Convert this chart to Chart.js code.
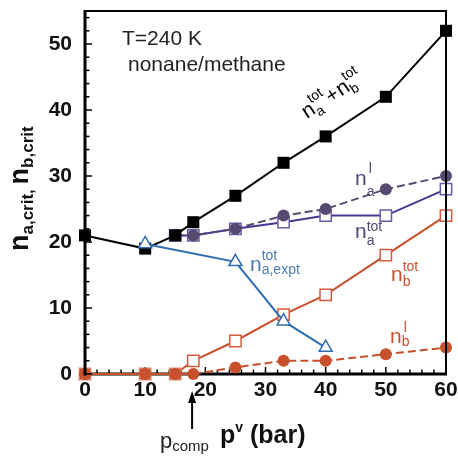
<!DOCTYPE html>
<html><head><meta charset="utf-8">
<script src="https://cdn.jsdelivr.net/npm/chart.js@4.4.1/dist/chart.umd.min.js"></script>
<style>html,body{margin:0;padding:0;background:#fff}#wrap{width:458px;height:457px}</style>
</head><body><div id="wrap"><canvas id="c" width="458" height="457"></canvas></div>
<script>
// ---- data ----
const pTotal   = [0, 10, 15, 18, 25, 33, 40, 50, 60];
const nTotal   = [21, 19, 21, 23, 27, 32, 36, 42, 52];
const pA       = [15, 18, 25, 33, 40, 50, 60];
const naLiquid = [21, 21, 22, 24, 25, 28, 30];
const naTotal  = [21, 21, 22, 23, 24, 24, 28];
const pB       = [0, 10, 15, 18, 25, 33, 40, 50, 60];
const nbTotal  = [0, 0, 0, 2, 5, 9, 12, 18, 24];
const nbLiquid = [0, 0, 0, 0, 1, 2, 2, 3, 4];
const pExpt    = [10, 25, 33, 40];
const naExpt   = [19.7, 17, 8, 4];
const xTicks   = [0, 10, 20, 30, 40, 50, 60];
const yTicks   = [0, 10, 20, 30, 40, 50];

const FONT = "'Liberation Sans', Arial, Helvetica, sans-serif";
const C = {
  black: '#000000',
  purpleDark: '#564a70',
  purpleLine: '#4a3590',
  purpleSq: '#6b5aa6',
  orange: '#c9502c',
  orangeSq: '#d45a3c',
  blue: '#2f6db3',
  purpleText: '#54467a',
  blueText: '#4d7bb5'
};
const pts = (xs, ys) => xs.map((x, i) => ({x, y: ys[i]}));

const framePlugin = {
  id: 'frame',
  beforeDatasetsDraw(chart) {
    const {ctx, chartArea: a, scales: {x, y}} = chart;
    ctx.save();
    ctx.strokeStyle = '#000';
    ctx.lineWidth = 3;
    ctx.beginPath();
    ctx.moveTo(a.left - 1.5, a.bottom); ctx.lineTo(a.right + 1, a.bottom);
    ctx.stroke();
    ctx.lineWidth = 1.5;
    for (let v = x.min; v <= x.max; v += 2) {
      const px = x.getPixelForValue(v);
      const len = v % 10 === 0 ? 7 : 4.5;
      ctx.beginPath(); ctx.moveTo(px, a.bottom); ctx.lineTo(px, a.bottom - len); ctx.stroke();
    }
    ctx.restore();
  },
  afterDatasetsDraw(chart) {
    const {ctx, chartArea: a, scales: {x, y}} = chart;
    ctx.save();
    ctx.strokeStyle = '#000';
    ctx.lineWidth = 2;
    ctx.beginPath();
    ctx.moveTo(a.left, a.top); ctx.lineTo(a.right, a.top); ctx.lineTo(a.right, a.bottom);
    ctx.stroke();
    ctx.lineWidth = 3;
    ctx.beginPath(); ctx.moveTo(a.left, a.top - 1); ctx.lineTo(a.left, a.bottom + 1.5); ctx.stroke();
    ctx.lineWidth = 1.5;
    for (let v = y.min; v <= y.max; v += 2) {
      const py = y.getPixelForValue(v);
      const len = v % 10 === 0 ? 7 : 4.5;
      ctx.beginPath(); ctx.moveTo(a.left, py); ctx.lineTo(a.left + len, py); ctx.stroke();
    }
    ctx.restore();
  }
};

function rich(ctx, x, y, items, color, angle) {
  ctx.save();
  ctx.translate(x, y);
  if (angle) ctx.rotate(angle);
  ctx.fillStyle = color;
  ctx.textAlign = 'left';
  ctx.textBaseline = 'alphabetic';
  let cx = 0;
  for (const it of items) {
    const w = it.weight || 'normal';
    if (it.t !== undefined) {
      ctx.font = `${w} ${it.size}px ${FONT}`;
      ctx.fillText(it.t, cx + (it.dx || 0), 0);
      cx += ctx.measureText(it.t).width + 2 * (it.dx || 0);
    } else {
      ctx.font = `${w} ${it.size}px ${FONT}`;
      let mw = 0;
      if (it.sup) { ctx.fillText(it.sup, cx + (it.supDx || 0), it.supDy); mw = Math.max(mw, ctx.measureText(it.sup).width + (it.supDx || 0)); }
      if (it.sub) { ctx.fillText(it.sub, cx, it.subDy); mw = Math.max(mw, ctx.measureText(it.sub).width); }
      cx += mw;
    }
  }
  ctx.restore();
}

const labelPlugin = {
  id: 'labels',
  afterDraw(chart) {
    const ctx = chart.ctx;
    ctx.save();
    ctx.fillStyle = '#222';
    ctx.font = `normal 21px ${FONT}`;
    ctx.textBaseline = 'alphabetic';
    ctx.fillText('T=240 K', 122, 45);
    ctx.fillText('nonane/methane', 128, 71);
    ctx.restore();

    // total label along black line
    rich(ctx, 307, 119, [
      {t: 'n', size: 21},
      {sup: 'tot', sub: 'a', size: 14, supDy: -11, subDy: 5},
      {t: '+', size: 20, dx: 1},
      {t: 'n', size: 21},
      {sup: 'tot', sub: 'b', size: 14, supDy: -11, subDy: 5}
    ], C.black, -0.58);

    rich(ctx, 355, 185, [{t: 'n', size: 21}, {sup: 'l', sub: 'a', size: 14, supDy: -12, subDy: 11, supDx: 2}], C.purpleText);
    rich(ctx, 355, 238, [{t: 'n', size: 21}, {sup: 'tot', sub: 'a', size: 14, supDy: -7, subDy: 7}], C.purpleText);
    rich(ctx, 250, 271, [{t: 'n', size: 21}, {sup: 'tot', sub: 'a,expt', size: 14, supDy: -11, subDy: 3}], C.blueText);
    rich(ctx, 391, 281, [{t: 'n', size: 21}, {sup: 'tot', sub: 'b', size: 14, supDy: -10, subDy: 5}], C.orange);
    rich(ctx, 390, 343, [{t: 'n', size: 21}, {sup: 'l', sub: 'b', size: 14, supDy: -11, subDy: 3, supDx: 2}], C.orange);

    // x axis title
    rich(ctx, 220, 443, [
      {t: 'p', size: 25, weight: 'bold'},
      {sup: 'v', size: 14, supDy: -11, weight: 'bold'},
      {t: ' (bar)', size: 25, weight: 'bold'}
    ], '#111');
    // p_comp
    rich(ctx, 160, 448, [{t: 'p', size: 22}, {sub: 'comp', size: 15, subDy: 3}], '#222');
    // y axis title
    rich(ctx, 28, 251, [
      {t: 'n', size: 27, weight: 'bold'},
      {sub: 'a,crit,', size: 17, subDy: 5, weight: 'bold'},
      {t: ' ', size: 17, weight: 'bold'},
      {t: 'n', size: 27, weight: 'bold'},
      {sub: 'b,crit', size: 17, subDy: 5, weight: 'bold'}
    ], '#111', -Math.PI / 2);

    // arrow for p_comp
    const ax = chart.scales.x.getPixelForValue(17.8);
    ctx.save();
    ctx.strokeStyle = '#000'; ctx.fillStyle = '#000'; ctx.lineWidth = 2;
    ctx.beginPath(); ctx.moveTo(ax, 429); ctx.lineTo(ax, 400); ctx.stroke();
    ctx.beginPath(); ctx.moveTo(ax, 391); ctx.lineTo(ax - 4, 403); ctx.lineTo(ax + 4, 403); ctx.closePath(); ctx.fill();
    ctx.restore();
  }
};

new Chart(document.getElementById('c'), {
  type: 'line',
  data: {
    datasets: [
      {
        label: 'expt', data: pts(pExpt, naExpt), borderColor: C.blue, borderWidth: 2,
        pointStyle: 'triangle', pointRadius: 7.5, pointBorderWidth: 1.5,
        pointBackgroundColor: '#fff', pointBorderColor: C.blue, clip: false, tension: 0
      },
      {
        label: 'total', data: pts(pTotal, nTotal), borderColor: C.black, borderWidth: 2,
        pointStyle: 'rect', pointRadius: 8.5, pointBorderWidth: 0,
        pointBackgroundColor: C.black, pointBorderColor: C.black, clip: false
      },
      {
        label: 'na liquid', data: pts(pA, naLiquid), borderColor: C.purpleDark, borderWidth: 2,
        borderDash: [8, 4], pointStyle: 'circle', pointRadius: 6, pointBorderWidth: 0,
        pointBackgroundColor: C.purpleDark, clip: false
      },
      {
        label: 'na total', data: pts(pA, naTotal), borderColor: C.purpleLine, borderWidth: 2,
        pointStyle: 'rect', pointRadius: 8, pointBorderWidth: 1.5,
        pointBackgroundColor: '#fff', pointBorderColor: C.purpleSq, clip: false
      },
      {
        label: 'nb liquid', data: pts(pB, nbLiquid), borderColor: C.orange, borderWidth: 2,
        segment: { borderDash: c => c.p0DataIndex >= 3 ? [8, 4] : undefined },
        pointStyle: 'circle', pointRadius: 6, pointBorderWidth: 0,
        pointBackgroundColor: C.orange, clip: false
      },
      {
        label: 'nb total', data: pts(pB, nbTotal), borderColor: C.orange, borderWidth: 2,
        pointStyle: 'rect', pointRadius: 8, pointBorderWidth: 1.5,
        pointBackgroundColor: nbTotal.map((v, i) => i < 3 ? C.orange : '#fff'),
        pointBorderColor: nbTotal.map((v, i) => i < 3 ? '#d9866f' : C.orangeSq), clip: false
      }
    ]
  },
  options: {
    responsive: false,
    animation: false,
    events: [],
    layout: { padding: { left: 0, right: 12, top: 11, bottom: 0 } },
    plugins: { legend: { display: false }, tooltip: { enabled: false } },
    scales: {
      x: {
        type: 'linear', min: 0, max: 60,
        grid: { display: false, drawTicks: false }, border: { display: false },
        afterBuildTicks: s => { s.ticks = xTicks.map(v => ({value: v})); },
        afterFit: s => { s.height = 83; s.paddingLeft = 0; s.paddingRight = 0; },
        ticks: { autoSkip: false, maxRotation: 0, padding: 4, color: '#111',
                 font: { family: FONT, size: 21, weight: 'bold' } }
      },
      y: {
        type: 'linear', min: 0, max: 55,
        grid: { display: false, drawTicks: false }, border: { display: false },
        afterBuildTicks: s => { s.ticks = yTicks.map(v => ({value: v})); },
        afterFit: s => { s.width = 85; s.paddingTop = 0; s.paddingBottom = 0; },
        ticks: { autoSkip: false, padding: 13, color: '#111',
                 font: { family: FONT, size: 21, weight: 'bold' } }
      }
    }
  },
  plugins: [framePlugin, labelPlugin]
});
</script>
</body></html>
